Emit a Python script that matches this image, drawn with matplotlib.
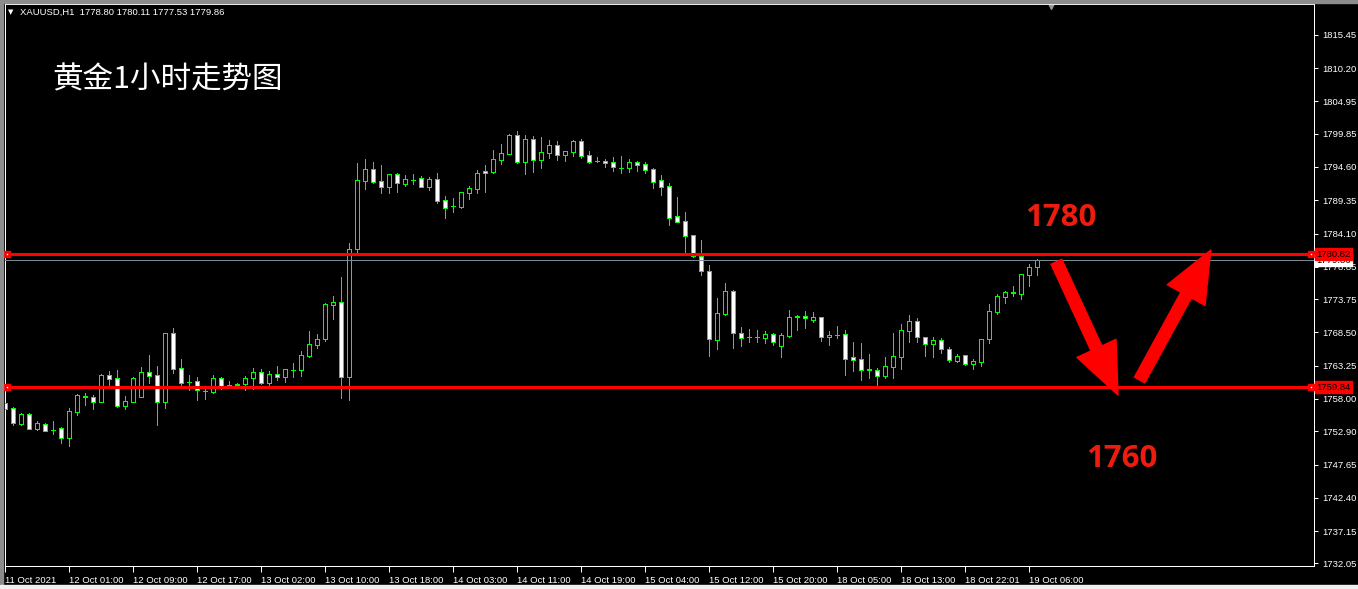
import matplotlib
matplotlib.use("Agg")
import matplotlib.pyplot as plt
from matplotlib.patches import Rectangle, FancyArrowPatch, ArrowStyle

# XAUUSD H1 candles
opens = [1757.31, 1756.57, 1754.05, 1755.58, 1753.31, 1753.99, 1753.05, 1753.37, 1751.89, 1755.94,
         1758.30, 1758.26, 1757.57, 1761.73, 1761.25, 1756.89, 1757.57, 1758.36, 1762.20, 1761.73,
         1757.57, 1768.35, 1762.83, 1760.60, 1760.78, 1759.28, 1759.15, 1761.25, 1760.12, 1760.27,
         1760.30, 1761.25, 1762.20, 1760.57, 1761.88, 1761.50, 1762.57, 1762.51, 1764.83, 1766.57,
         1767.41, 1772.87, 1773.24, 1761.53, 1781.61, 1792.44, 1794.23, 1792.34, 1791.50, 1793.44,
         1791.97, 1792.50, 1792.81, 1791.50, 1792.65, 1789.39, 1788.38, 1788.24, 1790.55, 1791.18,
         1793.97, 1793.86, 1795.76, 1796.70, 1799.64, 1795.44, 1799.01, 1795.76, 1796.86, 1798.07,
         1796.54, 1797.02, 1798.70, 1796.44, 1795.58, 1795.60, 1795.33, 1794.46, 1794.49, 1795.44,
         1795.02, 1794.23, 1792.49, 1791.55, 1786.81, 1786.02, 1783.82, 1780.56, 1778.25, 1767.36,
         1771.41, 1774.99, 1768.36, 1767.70, 1767.70, 1767.68, 1768.20, 1766.42, 1767.94, 1770.96,
         1771.04, 1770.52, 1770.89, 1767.73, 1768.07, 1768.20, 1764.58, 1764.26, 1762.60, 1762.52,
         1761.68, 1763.10, 1764.68, 1768.78, 1770.25, 1767.73, 1766.63, 1767.26, 1765.84, 1764.05,
         1764.89, 1763.47, 1763.89, 1767.42, 1771.73, 1774.15, 1774.75, 1774.62, 1777.62, 1778.80]
highs = [1757.68, 1756.78, 1755.73, 1755.73, 1754.52, 1754.15, 1754.52, 1753.58, 1756.57, 1758.78,
         1758.99, 1758.62, 1761.88, 1762.46, 1762.57, 1758.47, 1761.40, 1763.04, 1764.93, 1763.20,
         1768.40, 1769.14, 1764.30, 1761.78, 1761.41, 1759.68, 1761.78, 1761.40, 1760.83, 1760.57,
         1761.62, 1762.94, 1762.73, 1762.41, 1763.14, 1762.70, 1763.67, 1765.56, 1768.72, 1768.25,
         1773.19, 1774.24, 1777.27, 1782.61, 1795.23, 1795.86, 1795.39, 1794.91, 1793.50, 1793.60,
         1793.33, 1793.49, 1793.18, 1793.07, 1793.65, 1790.02, 1789.65, 1790.70, 1791.65, 1794.12,
         1794.91, 1797.28, 1798.22, 1799.80, 1800.27, 1799.64, 1799.49, 1799.33, 1798.86, 1798.70,
         1797.10, 1798.86, 1799.01, 1797.12, 1796.17, 1795.86, 1796.12, 1796.33, 1795.81, 1795.50,
         1795.33, 1794.49, 1793.33, 1792.02, 1789.81, 1787.45, 1783.90, 1783.08, 1779.14, 1773.94,
         1776.30, 1775.20, 1769.36, 1769.05, 1768.89, 1768.73, 1768.36, 1768.36, 1772.04, 1771.25,
         1771.89, 1771.73, 1770.99, 1768.78, 1769.52, 1768.89, 1766.99, 1766.84, 1765.10, 1762.84,
         1764.63, 1768.41, 1769.83, 1771.25, 1770.73, 1767.78, 1767.73, 1767.57, 1766.26, 1765.05,
         1764.92, 1764.26, 1767.45, 1772.94, 1774.57, 1775.04, 1775.83, 1777.70, 1779.30, 1780.11]
lows = [1755.84, 1753.89, 1753.89, 1753.25, 1753.10, 1752.89, 1752.47, 1751.10, 1750.58, 1755.42,
        1757.05, 1756.42, 1757.50, 1760.20, 1756.78, 1756.42, 1757.50, 1758.30, 1760.46, 1753.89,
        1756.63, 1762.04, 1760.20, 1759.41, 1757.84, 1758.00, 1758.99, 1759.60, 1759.68, 1759.68,
        1759.41, 1759.52, 1760.36, 1760.04, 1760.99, 1760.73, 1761.50, 1761.67, 1764.62, 1766.09,
        1767.19, 1770.66, 1758.20, 1757.85, 1781.24, 1791.13, 1792.13, 1790.55, 1790.55, 1790.65,
        1791.65, 1791.92, 1791.45, 1790.97, 1788.97, 1786.60, 1787.50, 1788.08, 1789.55, 1790.55,
        1790.65, 1793.65, 1795.07, 1796.65, 1795.18, 1793.49, 1793.81, 1794.44, 1796.07, 1795.70,
        1795.60, 1796.38, 1796.07, 1795.28, 1795.39, 1794.65, 1794.02, 1793.70, 1793.86, 1794.02,
        1793.70, 1791.34, 1790.18, 1785.45, 1785.90, 1780.70, 1780.40, 1777.56, 1764.79, 1765.89,
        1771.20, 1766.10, 1766.36, 1766.99, 1766.99, 1766.89, 1766.47, 1764.68, 1767.73, 1768.89,
        1769.26, 1770.10, 1767.21, 1766.57, 1767.57, 1761.79, 1762.47, 1761.05, 1761.37, 1760.21,
        1761.37, 1761.37, 1762.73, 1767.05, 1767.05, 1764.79, 1764.68, 1765.31, 1763.89, 1763.89,
        1763.37, 1762.79, 1763.21, 1766.89, 1771.46, 1773.20, 1774.25, 1773.78, 1775.88, 1777.53]
closes = [1756.36, 1754.26, 1755.63, 1753.31, 1754.15, 1752.99, 1753.10, 1751.89, 1756.05, 1758.57,
          1758.40, 1757.57, 1761.73, 1761.20, 1756.89, 1757.68, 1761.36, 1762.20, 1761.67, 1757.57,
          1768.35, 1762.78, 1760.57, 1760.65, 1759.41, 1759.33, 1761.25, 1759.94, 1760.18, 1760.33,
          1761.25, 1762.20, 1760.57, 1761.88, 1761.50, 1762.67, 1762.63, 1764.88, 1766.62, 1767.41,
          1772.98, 1773.29, 1761.52, 1781.61, 1792.49, 1794.23, 1792.28, 1791.50, 1793.44, 1792.02,
          1792.65, 1792.58, 1791.50, 1792.65, 1789.29, 1788.18, 1788.42, 1790.65, 1791.23, 1793.65,
          1793.60, 1795.86, 1796.80, 1799.64, 1795.39, 1799.01, 1795.76, 1796.96, 1798.07, 1796.54,
          1797.07, 1798.70, 1796.38, 1795.44, 1795.52, 1795.28, 1794.54, 1794.42, 1795.33, 1794.96,
          1794.18, 1792.28, 1791.50, 1786.60, 1785.97, 1783.77, 1780.60, 1778.25, 1767.52, 1771.52,
          1774.99, 1768.36, 1767.68, 1767.76, 1767.76, 1768.20, 1767.05, 1768.05, 1770.94, 1771.02,
          1770.73, 1770.94, 1767.73, 1768.10, 1768.13, 1764.37, 1764.21, 1762.63, 1762.66, 1761.68,
          1763.16, 1764.73, 1768.83, 1770.25, 1767.73, 1766.63, 1767.26, 1765.84, 1764.10, 1764.73,
          1763.47, 1763.95, 1767.42, 1771.83, 1774.20, 1774.83, 1774.81, 1777.67, 1778.83, 1779.86]

x_labels = ["11 Oct 2021", "12 Oct 01:00", "12 Oct 09:00", "12 Oct 17:00", "13 Oct 02:00",
            "13 Oct 10:00", "13 Oct 18:00", "14 Oct 03:00", "14 Oct 11:00", "14 Oct 19:00",
            "15 Oct 04:00", "15 Oct 12:00", "15 Oct 20:00", "18 Oct 05:00", "18 Oct 13:00",
            "18 Oct 22:01", "19 Oct 06:00"]
y_ticks = [1815.45, 1810.20, 1804.95, 1799.85, 1794.60, 1789.35, 1784.10, 1778.85, 1773.75,
           1768.50, 1763.25, 1758.00, 1752.90, 1747.65, 1742.40, 1737.15, 1732.05]

level_hi = 1780.82
level_lo = 1759.84
last_price = 1779.86
header = "XAUUSD,H1  1778.80 1780.11 1777.53 1779.86"
title = "黄金1小时走势图"

plt.rcParams['font.family'] = ['Liberation Sans', 'DejaVu Sans']

W, H = 1358, 589
green = "#00FF00"
px = 0.72  # one pixel in points

fig = plt.figure(figsize=(W / 100, H / 100), dpi=100, facecolor="black")
ax = fig.add_axes([5 / W, (H - 566) / H, 1309 / W, 562 / H])
ax.set_facecolor("black")
ax.set_xlim(-0.04, 163.6)
ax.set_ylim(1731.65, 1820.31)

for s in ax.spines.values():
    s.set_color("white")
    s.set_linewidth(px)

# candles: white body = bear, black body = bull
for i in range(len(opens)):
    o, h, l, c = opens[i], highs[i], lows[i], closes[i]
    ax.vlines(i, l, h, color=green, lw=px, zorder=2, antialiased=False)
    face = "white" if c < o else "black"
    ax.add_patch(Rectangle((i - 0.25, min(o, c)), 0.5, abs(c - o), facecolor=face,
                           edgecolor=green, lw=px, zorder=3, antialiased=False))

# price lines
ax.axhline(last_price, color="#7a8896", lw=px, zorder=4)
for lev in (level_hi, level_lo):
    ax.axhline(lev, color="#FF0000", lw=2.2, zorder=5)
    ax.plot([0.27, 163.2], [lev, lev], "s", ms=5, color="#FF0000", clip_on=False, zorder=6)
    ax.plot([0.27, 163.2], [lev, lev], "s", ms=1, color="white", mew=0, clip_on=False, zorder=7)

# axes ticks
ax.yaxis.tick_right()
ax.set_yticks(y_ticks)
ax.set_yticklabels(["%.2f" % v for v in y_ticks])
ax.tick_params(axis="y", colors="white", length=3, width=px, pad=3, labelsize=6.8)
ax.set_xticks(range(0, 8 * len(x_labels), 8))
ax.set_xticklabels(x_labels, ha="left")
ax.tick_params(axis="x", colors="white", length=4, width=px, pad=3, labelsize=6.8)

# price labels on the right scale
ax.text(1.0017, last_price, "1779.86", transform=ax.get_yaxis_transform(), fontsize=6.8,
        color="black", va="center", ha="left", zorder=8, clip_on=False,
        bbox=dict(boxstyle="square,pad=0.15", facecolor="white", edgecolor="white"))
for lev in (level_hi, level_lo):
    ax.text(1.0017, lev, "%.2f" % lev, transform=ax.get_yaxis_transform(), fontsize=6.8,
            color="black", va="center", ha="left", zorder=9, clip_on=False,
            bbox=dict(boxstyle="square,pad=0.15", facecolor="#FF0000", edgecolor="#FF0000"))

# shift marker at top
ax.plot([0.799], [0.9956], "v", ms=5, color="#8d9aa6", transform=ax.transAxes, clip_on=False)

# arrows and level notes
style = ArrowStyle.Simple(head_length=37, head_width=31, tail_width=8.6)
ax.add_patch(FancyArrowPatch((131.4, 1779.65), (139.1, 1758.62), arrowstyle=style,
                             mutation_scale=1, color="#FF0000", shrinkA=0, shrinkB=0, zorder=10))
ax.add_patch(FancyArrowPatch((141.8, 1760.99), (150.7, 1781.5), arrowstyle=style,
                             mutation_scale=1, color="#FF0000", shrinkA=0, shrinkB=0, zorder=10))
ax.text(127.5, 1785.28, "1780", color="#EE1C0E", fontsize=22.5, fontweight="bold",
        family="Open Sans", ha="left", va="baseline", zorder=10)
ax.text(135.1, 1747.27, "1760", color="#EE1C0E", fontsize=22.5, fontweight="bold",
        family="Open Sans", ha="left", va="baseline", zorder=10)

# header and title
fig.text(8 / W, 1 - 12 / H, "▼", color="white", fontsize=5, va="center", family="DejaVu Sans")
fig.text(20 / W, 1 - 12 / H, header, color="white", fontsize=6.8, va="center")
fig.text(52 / W, 1 - 80 / H, title, color="white", fontsize=22, va="center",
         family=["Noto Sans CJK SC", "DejaVu Sans"])

# window frame
fig.add_artist(Rectangle((0, 1 - 3 / H), 1, 3 / H, transform=fig.transFigure, color="#8c8c8c"))
fig.add_artist(Rectangle((0, 0), 3 / W, 1, transform=fig.transFigure, color="#8c8c8c"))
fig.add_artist(Rectangle((0, 0), 1, 4 / H, transform=fig.transFigure, color="#f0f0f0"))

fig.savefig("out.png", dpi=100, facecolor="black")
